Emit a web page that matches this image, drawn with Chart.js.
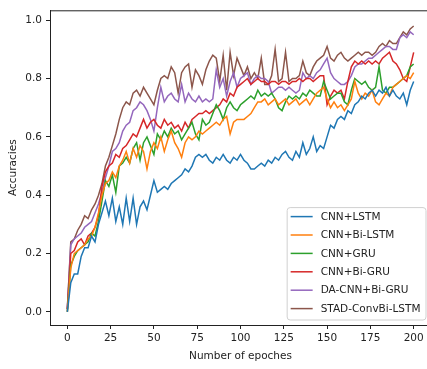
<!DOCTYPE html>
<html>
  <head>
    <title>Accuracies</title>
    <meta http-equiv="Content-Type" content="text/html;charset=utf-8" />
    <script src="https://cdn.jsdelivr.net/npm/chart.js@4.4.1/dist/chart.umd.min.js"></script>
    <style>
      body { margin: 0; overflow: hidden; background: #fff; }
    </style>
    <script>
      // epochs sampled every 2
      var epochs = [
        0, 2, 4, 6, 8, 10, 12, 14, 16, 18, 20, 22, 24, 26, 28, 30, 32, 34, 36, 38,
        40, 42, 44, 46, 48, 50, 52, 54, 56, 58, 60, 62, 64, 66, 68, 70, 72, 74, 76, 78,
        80, 82, 84, 86, 88, 90, 92, 94, 96, 98, 100, 102, 104, 106, 108, 110, 112, 114, 116, 118,
        120, 122, 124, 126, 128, 130, 132, 134, 136, 138, 140, 142, 144, 146, 148, 150, 152, 154, 156, 158,
        160, 162, 164, 166, 168, 170, 172, 174, 176, 178, 180, 182, 184, 186, 188, 190, 192, 194, 196, 198,
        200
      ];

      var cnnLstm = [
        0.00, 0.10, 0.13, 0.13, 0.19, 0.22, 0.22, 0.26, 0.24, 0.30,
        0.34, 0.38, 0.33, 0.39, 0.31, 0.36, 0.30, 0.39, 0.31, 0.39,
        0.30, 0.36, 0.38, 0.35, 0.40, 0.45, 0.41, 0.42, 0.43, 0.42,
        0.44, 0.45, 0.46, 0.47, 0.49, 0.48, 0.50, 0.53, 0.54, 0.53,
        0.54, 0.52, 0.51, 0.53, 0.52, 0.54, 0.52, 0.51, 0.53, 0.52,
        0.54, 0.52, 0.51, 0.49, 0.49, 0.50, 0.51, 0.50, 0.52, 0.51,
        0.53, 0.52, 0.54, 0.55, 0.53, 0.52, 0.55, 0.53, 0.58, 0.54,
        0.56, 0.60, 0.55, 0.57, 0.56, 0.60, 0.64, 0.63, 0.66, 0.67,
        0.66, 0.69, 0.68, 0.71, 0.72, 0.74, 0.73, 0.75, 0.76, 0.74,
        0.76, 0.75, 0.77, 0.74, 0.76, 0.74, 0.73, 0.75, 0.71, 0.76,
        0.79
      ];
      var cnnBiLstm = [
        0.00, 0.15, 0.20, 0.21, 0.22, 0.23, 0.25, 0.26, 0.29, 0.34,
        0.40, 0.44, 0.45, 0.48, 0.46, 0.50, 0.52, 0.55, 0.51, 0.56,
        0.53, 0.57, 0.55, 0.49, 0.55, 0.58, 0.56, 0.60, 0.55, 0.59,
        0.62, 0.58, 0.56, 0.53, 0.58, 0.60, 0.59, 0.60, 0.62, 0.61,
        0.62, 0.63, 0.64, 0.65, 0.64, 0.66, 0.67, 0.61, 0.65, 0.66,
        0.66, 0.66, 0.67, 0.68, 0.70, 0.72, 0.72, 0.73, 0.71, 0.72,
        0.73, 0.71, 0.72, 0.73, 0.71, 0.72, 0.73, 0.71, 0.72, 0.73,
        0.71, 0.73, 0.75, 0.76, 0.77, 0.73, 0.70, 0.72, 0.70, 0.71,
        0.69, 0.71, 0.73, 0.79, 0.75, 0.73, 0.75, 0.74, 0.76, 0.72,
        0.71, 0.73, 0.75, 0.74, 0.77, 0.78, 0.79, 0.80, 0.81, 0.80,
        0.82
      ];
      var cnnGru = [
        0.00, 0.16, 0.19, 0.21, 0.22, 0.23, 0.24, 0.27, 0.26, 0.31,
        0.38, 0.45, 0.43, 0.47, 0.41, 0.50, 0.51, 0.53, 0.51, 0.56,
        0.58, 0.52, 0.58, 0.60, 0.57, 0.54, 0.61, 0.59, 0.62, 0.60,
        0.63, 0.61, 0.62, 0.59, 0.61, 0.63, 0.65, 0.61, 0.59, 0.66,
        0.64, 0.65, 0.68, 0.71, 0.69, 0.66, 0.70, 0.72, 0.70, 0.69,
        0.71, 0.72, 0.73, 0.74, 0.73, 0.76, 0.74, 0.75, 0.74, 0.75,
        0.73, 0.70, 0.69, 0.72, 0.74, 0.73, 0.74, 0.73, 0.75, 0.74,
        0.76, 0.75, 0.74, 0.74, 0.79, 0.76, 0.73, 0.74, 0.75, 0.75,
        0.72, 0.71, 0.76, 0.80, 0.79, 0.78, 0.79, 0.77, 0.76, 0.77,
        0.84, 0.76, 0.75, 0.77, 0.77, 0.78, 0.79, 0.80, 0.81, 0.84,
        0.85
      ];
      var cnnBiGru = [
        0.01, 0.20, 0.21, 0.24, 0.25, 0.23, 0.26, 0.27, 0.29, 0.33,
        0.43, 0.48, 0.50, 0.51, 0.54, 0.53, 0.56, 0.57, 0.59, 0.61,
        0.60, 0.63, 0.66, 0.63, 0.65, 0.66, 0.64, 0.63, 0.66, 0.64,
        0.65, 0.63, 0.64, 0.62, 0.65, 0.63, 0.66, 0.67, 0.68, 0.68,
        0.69, 0.68, 0.69, 0.70, 0.71, 0.73, 0.72, 0.75, 0.74, 0.77,
        0.78, 0.79, 0.80, 0.78, 0.79, 0.80, 0.79, 0.79, 0.78, 0.79,
        0.79, 0.78, 0.79, 0.79, 0.78, 0.79, 0.79, 0.80, 0.79, 0.80,
        0.80, 0.79, 0.80, 0.81, 0.81, 0.71, 0.74, 0.76, 0.75, 0.76,
        0.73, 0.79, 0.84, 0.86, 0.85, 0.86, 0.85, 0.86, 0.85, 0.86,
        0.85, 0.87, 0.88, 0.89, 0.86, 0.85, 0.83, 0.80, 0.79, 0.84,
        0.89
      ];
      var daCnnBiGru = [
        0.01, 0.23, 0.25, 0.26, 0.27, 0.29, 0.30, 0.31, 0.34, 0.37,
        0.41, 0.46, 0.50, 0.55, 0.56, 0.58, 0.62, 0.64, 0.65, 0.69,
        0.70, 0.72, 0.71, 0.69, 0.66, 0.62, 0.70, 0.77, 0.72, 0.74,
        0.75, 0.73, 0.72, 0.78, 0.72, 0.75, 0.73, 0.72, 0.74, 0.72,
        0.73, 0.72, 0.73, 0.83, 0.77, 0.80, 0.74, 0.79, 0.82, 0.77,
        0.80, 0.81, 0.82, 0.78, 0.80, 0.81, 0.80, 0.80, 0.79, 0.75,
        0.76, 0.77, 0.77, 0.76, 0.77, 0.76, 0.75, 0.76, 0.82, 0.80,
        0.81, 0.80, 0.82, 0.83, 0.85, 0.87, 0.82, 0.80, 0.79, 0.78,
        0.78, 0.79, 0.81, 0.84, 0.85, 0.85, 0.86, 0.87, 0.87, 0.88,
        0.89, 0.90, 0.91, 0.91, 0.90, 0.90, 0.94, 0.95, 0.94, 0.96,
        0.95
      ];
      var stadConvBiLstm = [
        0.01, 0.24, 0.25, 0.28, 0.30, 0.33, 0.32, 0.35, 0.37, 0.40,
        0.44, 0.50, 0.53, 0.57, 0.61, 0.66, 0.70, 0.72, 0.71, 0.75,
        0.76, 0.74, 0.77, 0.75, 0.73, 0.71, 0.76, 0.80, 0.81, 0.80,
        0.84, 0.82, 0.75, 0.82, 0.84, 0.85, 0.77, 0.83, 0.81, 0.78,
        0.83, 0.86, 0.88, 0.87, 0.79, 0.88, 0.76, 0.89, 0.81, 0.87,
        0.84, 0.81, 0.84, 0.80, 0.82, 0.80, 0.87, 0.78, 0.78, 0.81,
        0.90, 0.79, 0.80, 0.89, 0.79, 0.80, 0.80, 0.81, 0.86, 0.82,
        0.81, 0.84, 0.86, 0.87, 0.88, 0.91, 0.87, 0.86, 0.88, 0.89,
        0.87, 0.86, 0.87, 0.88, 0.89, 0.88, 0.89, 0.89, 0.88, 0.89,
        0.91, 0.92, 0.91, 0.93, 0.92, 0.92, 0.94, 0.96, 0.95, 0.97,
        0.98
      ];

      var seriesNames = [
        "CNN+LSTM", "CNN+Bi-LSTM", "CNN+GRU",
        "CNN+Bi-GRU", "DA-CNN+Bi-GRU", "STAD-ConvBi-LSTM"
      ];
      var seriesColors = ["#1f77b4", "#ff7f0e", "#2ca02c", "#d62728", "#9467bd", "#8c564b"];

      var xTicks = [0, 25, 50, 75, 100, 125, 150, 175, 200];
      var yTicks = [0, 0.2, 0.4, 0.6, 0.8, 1.0];
    </script>
  </head>
  <body>
    <canvas id="acc" width="432" height="369"></canvas>
    <script>
      var ink = "#222";
      var font = { family: "DejaVu Sans", size: 10.5 };

      // top and right spines (Chart.js only draws the axis side)
      var frame = {
        id: "frame",
        afterDatasetsDraw: function (chart) {
          var a = chart.chartArea, ctx = chart.ctx;
          ctx.save();
          ctx.strokeStyle = ink;
          ctx.lineWidth = 1;
          ctx.beginPath();
          ctx.moveTo(a.left, a.top + 0.5);
          ctx.lineTo(a.right + 0.5, a.top + 0.5);
          ctx.lineTo(a.right + 0.5, a.bottom);
          ctx.stroke();
          ctx.restore();
        },
      };

      // matplotlib-like legend in the lower right corner
      var boxLegend = {
        id: "boxLegend",
        afterDraw: function (chart) {
          var a = chart.chartArea, ctx = chart.ctx;
          var sets = chart.data.datasets;
          ctx.save();
          ctx.font = "10.5px 'DejaVu Sans'";
          var maxW = 0;
          sets.forEach(function (d) {
            maxW = Math.max(maxW, ctx.measureText(d.label).width);
          });
          var rowH = 18.4;
          var w = 4 + 22 + 8 + maxW + 5;
          var h = sets.length * rowH + 2;
          var right = a.right - 5.5, bottom = a.bottom - 5.5;
          var left = right - w, top = bottom - h;

          ctx.fillStyle = "rgba(255,255,255,0.8)";
          ctx.strokeStyle = "#d0d0d0";
          ctx.lineWidth = 1;
          ctx.beginPath();
          ctx.roundRect(left + 0.5, top + 0.5, w, h, 3);
          ctx.fill();
          ctx.stroke();

          sets.forEach(function (d, i) {
            var cy = top + 9.5 + i * rowH;
            ctx.strokeStyle = d.borderColor;
            ctx.lineWidth = 1.5;
            ctx.beginPath();
            ctx.moveTo(left + 4, cy);
            ctx.lineTo(left + 26, cy);
            ctx.stroke();
            ctx.fillStyle = ink;
            ctx.textBaseline = "middle";
            ctx.fillText(d.label, left + 34, cy + 0.5);
          });
          ctx.restore();
        },
      };

      var allSeries = [cnnLstm, cnnBiLstm, cnnGru, cnnBiGru, daCnnBiGru, stadConvBiLstm];

      new Chart(document.getElementById("acc"), {
        type: "line",
        data: {
          labels: epochs,
          datasets: allSeries.map(function (s, i) {
            return {
              label: seriesNames[i],
              data: s,
              borderColor: seriesColors[i],
              backgroundColor: seriesColors[i],
              borderWidth: 1.5,
              pointRadius: 0,
              tension: 0,
              fill: false,
            };
          }),
        },
        options: {
          responsive: false,
          animation: false,
          layout: { padding: { top: 5, right: 1, left: 0, bottom: 0 } },
          plugins: {
            legend: { display: false },
            tooltip: { enabled: false },
          },
          scales: {
            x: {
              type: "linear",
              min: -10,
              max: 210,
              afterBuildTicks: function (s) {
                s.ticks = xTicks.map(function (v) { return { value: v }; });
              },
              afterFit: function (s) { s.height = 44; },
              grid: { drawOnChartArea: false, drawTicks: true, tickLength: 4, color: ink },
              border: { display: true, color: ink, width: 1 },
              ticks: { font: font, color: ink, padding: 3, maxRotation: 0 },
              title: {
                display: true,
                text: "Number of epoches",
                font: font,
                color: ink,
                padding: { top: 2, bottom: 6 },
              },
            },
            y: {
              min: -0.045,
              max: 1.034,
              afterBuildTicks: function (s) {
                s.ticks = yTicks.map(function (v) { return { value: v }; });
              },
              afterFit: function (s) { s.width = 50; },
              grid: { drawOnChartArea: false, drawTicks: true, tickLength: 4, color: ink },
              border: { display: true, color: ink, width: 1 },
              ticks: {
                font: font,
                color: ink,
                padding: 4,
                callback: function (v) { return v.toFixed(1); },
              },
              title: {
                display: true,
                text: "Accuracies",
                font: font,
                color: ink,
                padding: { top: 7, bottom: 0 },
              },
            },
          },
        },
        plugins: [frame, boxLegend],
      });
    </script>
  </body>
</html>
